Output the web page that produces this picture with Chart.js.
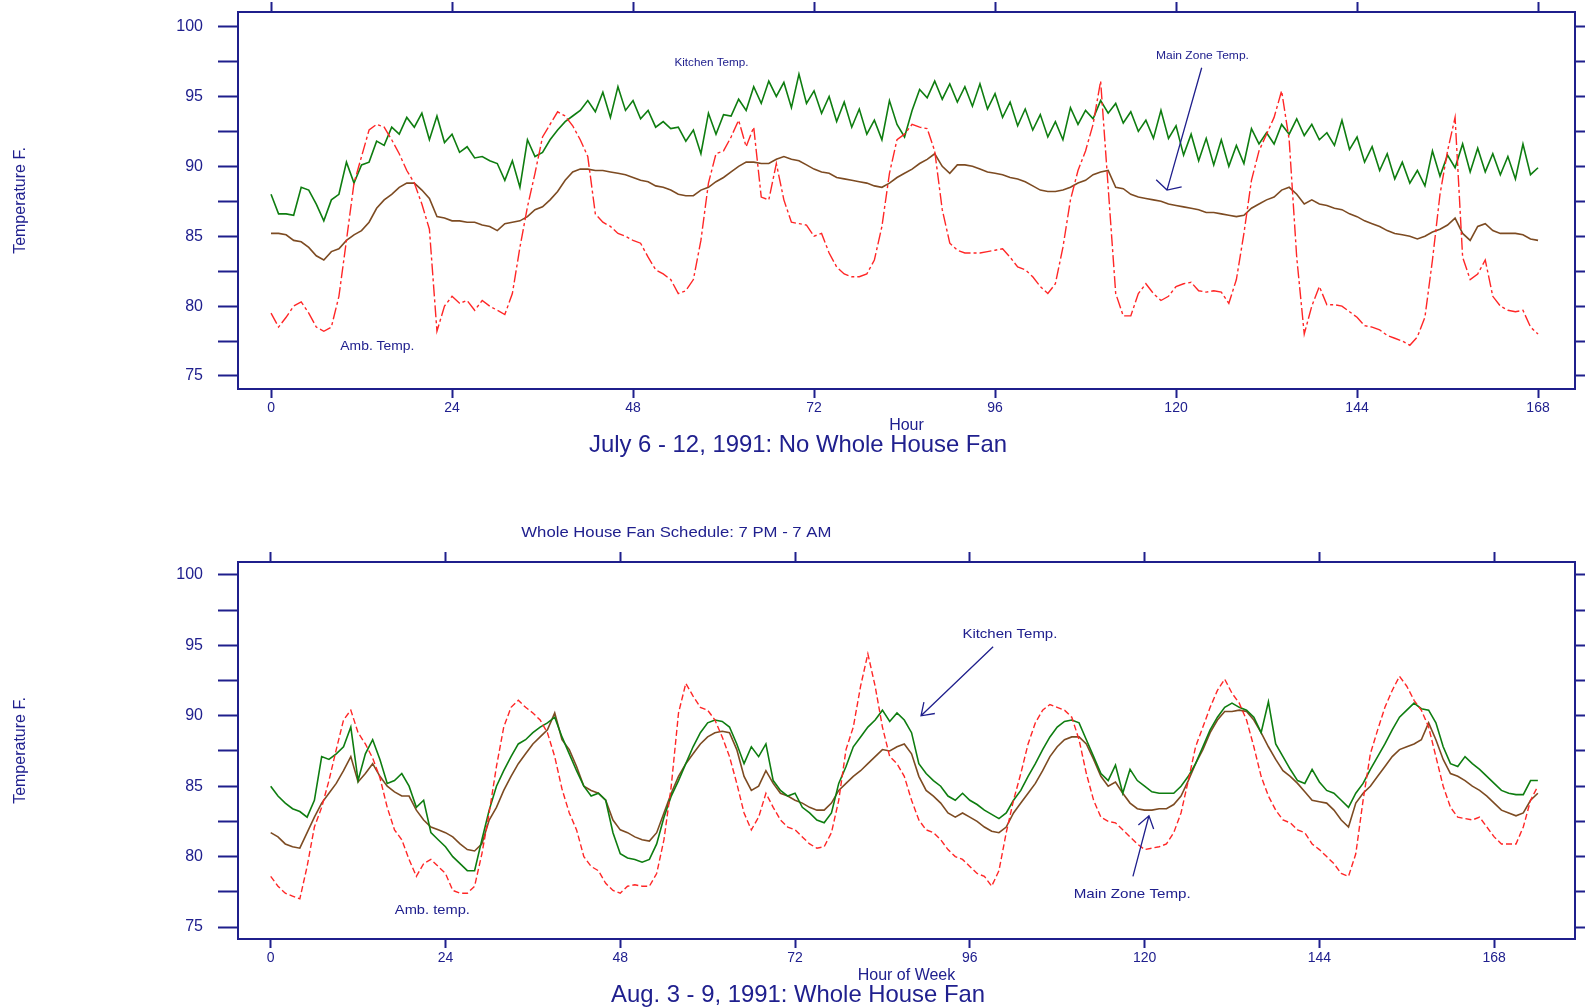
<!DOCTYPE html>
<html>
<head>
<meta charset="utf-8">
<title>Whole House Fan: July vs August 1991</title>
<script src="https://cdn.jsdelivr.net/npm/chart.js@4.4.1/dist/chart.umd.min.js"></script>
<style>
  html, body { margin: 0; padding: 0; background: #fff; }
  body { width: 1585px; height: 1008px; position: relative; overflow: hidden; }
  canvas { position: absolute; left: 0; }
  #julyChart { top: 0; }
  #augChart { top: 470px; }
</style>
</head>
<body>
<canvas id="julyChart" width="1585" height="470"></canvas>
<canvas id="augChart" width="1585" height="538"></canvas>
<script>
'use strict'

// axis marks
const hourMarks = [0, 24, 48, 72, 96, 120, 144, 168]
const tempMarks = [75, 77.5, 80, 82.5, 85, 87.5, 90, 92.5, 95, 97.5, 100]

// July 6 - 12, 1991 (no whole house fan), hourly, deg F
const julyAmb = [
  79.5, 78.5, 79.2, 80.0, 80.3, 79.5, 78.5, 78.2, 78.5, 80.7,
  84.7, 88.8, 90.7, 92.6, 93.0, 92.8, 91.9, 90.9, 89.7, 88.8,
  87.3, 85.5, 78.2, 80.0, 80.7, 80.2, 80.4, 79.7, 80.4, 80.0,
  79.7, 79.4, 80.9, 84.2, 87.1, 89.5, 92.1, 93.0, 93.9, 93.6,
  92.9, 91.9, 90.7, 86.6, 86.0, 85.7, 85.2, 85.0, 84.7, 84.5,
  83.5, 82.6, 82.3, 81.9, 80.9, 81.1, 81.9, 84.7, 88.8, 90.9,
  91.1, 92.1, 93.3, 91.4, 92.8, 87.8, 87.6, 90.2, 87.6, 86.0,
  85.9, 85.8, 85.0, 85.2, 83.8, 82.8, 82.3, 82.1, 82.1, 82.3,
  83.3, 85.7, 89.5, 91.9, 92.3, 93.0, 92.8, 92.7, 91.1, 86.9,
  84.5, 84.0, 83.8, 83.8, 83.8, 83.9, 84.0, 84.1, 83.5, 82.8,
  82.6, 82.1, 81.4, 80.9, 81.6, 84.2, 87.6, 89.7, 91.1, 93.0,
  96.1, 88.5, 80.9, 79.3, 79.3, 80.9, 81.6, 80.9, 80.4, 80.7,
  81.4, 81.6, 81.7, 81.1, 81.0, 81.1, 81.0, 80.2, 81.9, 85.2,
  89.0, 91.1, 92.3, 93.5, 95.4, 91.9, 83.5, 78.0, 80.0, 81.4,
  80.1, 80.1, 80.0, 79.6, 79.2, 78.6, 78.5, 78.3, 77.9, 77.7,
  77.5, 77.2, 77.8, 79.2, 83.3, 88.0, 91.1, 93.5, 83.5, 81.9,
  82.3, 83.3, 80.7, 80.0, 79.7, 79.6, 79.7, 78.5, 78.0
]
const julyKitchen = [
  88.0, 86.6, 86.6, 86.5, 88.5, 88.3, 87.3, 86.1, 87.6, 88.0,
  90.3, 88.8, 90.1, 90.3, 91.8, 91.5, 92.8, 92.3, 93.5, 92.8,
  93.8, 91.9, 93.6, 91.7, 92.3, 91.0, 91.4, 90.6, 90.7, 90.4,
  90.2, 89.0, 90.4, 88.5, 91.9, 90.7, 91.0, 91.9, 92.6, 93.2,
  93.6, 94.0, 94.7, 93.9, 95.3, 93.5, 95.7, 94.0, 94.7, 93.4,
  94.0, 92.8, 93.2, 92.7, 92.8, 91.8, 92.6, 90.9, 93.8, 92.3,
  93.7, 93.6, 94.8, 94.0, 95.7, 94.5, 96.1, 95.0, 96.0, 94.2,
  96.6, 94.5, 95.4, 93.8, 95.0, 93.2, 94.6, 92.8, 94.1, 92.3,
  93.3, 91.9, 94.7, 93.0, 92.1, 94.0, 95.5, 94.9, 96.1, 94.8,
  95.9, 94.6, 95.7, 94.3, 95.9, 94.1, 95.2, 93.5, 94.6, 92.9,
  94.1, 92.6, 93.7, 92.1, 93.2, 91.9, 94.2, 93.0, 94.0, 93.4,
  94.7, 93.8, 94.5, 93.1, 93.9, 92.5, 93.3, 92.0, 94.0, 92.0,
  92.9, 90.8, 92.3, 90.4, 92.0, 90.1, 91.9, 90.0, 91.5, 90.2,
  92.7, 91.6, 92.4, 91.6, 93.0, 92.3, 93.4, 92.2, 93.0, 91.9,
  92.4, 91.5, 93.3, 91.2, 92.1, 90.3, 91.4, 89.7, 90.9, 89.1,
  90.3, 88.8, 89.7, 88.6, 91.1, 89.3, 90.8, 89.9, 91.6, 89.6,
  91.3, 89.6, 90.9, 89.4, 90.7, 89.1, 91.6, 89.4, 89.9
]
const julyMain = [
  85.2, 85.2, 85.1, 84.7, 84.6, 84.2, 83.6, 83.3, 83.9, 84.1,
  84.7, 85.1, 85.4, 86.0, 87.0, 87.6, 88.0, 88.5, 88.8, 88.8,
  88.3, 87.7, 86.4, 86.3, 86.1, 86.1, 86.0, 86.0, 85.8, 85.7,
  85.4, 85.9, 86.0, 86.1, 86.4, 86.9, 87.1, 87.6, 88.2, 89.0,
  89.6, 89.8, 89.8, 89.7, 89.7, 89.6, 89.5, 89.4, 89.2, 89.0,
  88.9, 88.6, 88.5, 88.3, 88.0, 87.9, 87.9, 88.3, 88.5, 88.9,
  89.2, 89.6, 90.0, 90.3, 90.3, 90.2, 90.2, 90.5, 90.7, 90.5,
  90.4, 90.1, 89.8, 89.6, 89.5, 89.2, 89.1, 89.0, 88.9, 88.8,
  88.6, 88.5, 88.8, 89.2, 89.5, 89.8, 90.2, 90.5, 90.9, 90.0,
  89.5, 90.1, 90.1, 90.0, 89.8, 89.6, 89.5, 89.4, 89.2, 89.1,
  88.9, 88.6, 88.3, 88.2, 88.2, 88.3, 88.5, 88.8, 89.0, 89.4,
  89.6, 89.7, 88.5, 88.4, 88.0, 87.8, 87.7, 87.6, 87.5, 87.3,
  87.2, 87.1, 87.0, 86.9, 86.7, 86.7, 86.6, 86.5, 86.4, 86.5,
  87.0, 87.3, 87.6, 87.8, 88.3, 88.5, 88.0, 87.3, 87.6, 87.3,
  87.2, 87.0, 86.9, 86.6, 86.4, 86.1, 85.9, 85.7, 85.4, 85.2,
  85.1, 85.0, 84.8, 85.0, 85.3, 85.5, 85.8, 86.3, 85.2, 84.7,
  85.7, 85.9, 85.4, 85.2, 85.2, 85.2, 85.1, 84.8, 84.7
]

// Aug. 3 - 9, 1991 (whole house fan), hourly, deg F
const augAmb = [
  78.6, 77.9, 77.4, 77.2, 77.0, 79.3, 82.1, 83.5, 85.4, 87.6,
  89.7, 90.4, 88.8, 88.0, 87.0, 85.6, 83.5, 81.9, 81.2, 79.8,
  78.6, 79.5, 79.8, 79.3, 78.8, 77.6, 77.4, 77.4, 77.9, 80.2,
  83.1, 86.4, 89.2, 90.6, 91.1, 90.6, 90.2, 89.7, 88.8, 87.1,
  84.8, 83.1, 81.9, 80.0, 79.3, 79.0, 78.1, 77.6, 77.4, 77.9,
  78.0, 77.9, 77.9, 78.8, 81.2, 85.0, 90.2, 92.3, 91.4, 90.6,
  90.4, 89.7, 88.5, 87.1, 85.2, 83.1, 81.9, 82.8, 84.5, 83.5,
  82.6, 82.1, 81.9, 81.4, 80.9, 80.6, 80.7, 81.7, 84.0, 87.6,
  89.2, 92.1, 94.4, 92.1, 89.2, 87.1, 86.6, 85.7, 84.0, 82.6,
  81.9, 81.7, 81.2, 80.5, 80.0, 79.8, 79.3, 78.8, 78.6, 77.9,
  79.0, 81.7, 84.0, 85.9, 88.0, 89.5, 90.4, 90.8, 90.6, 90.4,
  89.9, 88.3, 85.9, 84.0, 82.8, 82.5, 82.4, 81.9, 81.4, 80.9,
  80.5, 80.6, 80.7, 80.9, 81.7, 83.1, 85.4, 87.8, 89.2, 90.6,
  91.8, 92.6, 91.6, 90.9, 89.7, 87.8, 85.7, 84.3, 83.3, 82.6,
  82.4, 81.9, 81.7, 80.9, 80.5, 80.0, 79.5, 78.8, 78.6, 80.2,
  84.0, 87.3, 89.0, 90.6, 91.8, 92.8, 92.1, 91.1, 90.4, 89.2,
  87.1, 85.0, 83.5, 82.8, 82.7, 82.6, 82.8, 82.1, 81.4, 80.9,
  80.9, 80.9, 82.1, 84.0, 85.0
]
const augKitchen = [
  85.0, 84.3, 83.8, 83.4, 83.2, 82.8, 84.0, 87.1, 86.9, 87.3,
  87.8, 89.2, 85.4, 87.3, 88.3, 86.9, 85.2, 85.4, 85.9, 85.0,
  83.5, 84.0, 81.7, 81.2, 80.7, 80.0, 79.5, 79.0, 79.0, 81.2,
  83.3, 85.0, 86.1, 87.1, 88.0, 88.3, 88.8, 89.2, 89.5, 89.9,
  88.5, 87.3, 86.1, 85.0, 84.3, 84.5, 84.0, 81.7, 80.2, 79.9,
  79.8, 79.6, 79.8, 80.9, 82.8, 84.3, 85.4, 86.6, 87.8, 88.8,
  89.5, 89.7, 89.6, 89.2, 88.0, 86.6, 87.8, 87.1, 88.0, 85.4,
  84.7, 84.3, 84.5, 83.5, 83.1, 82.6, 82.4, 83.1, 85.2, 86.4,
  87.8, 88.5, 89.2, 89.7, 90.4, 89.6, 90.2, 89.7, 88.8, 86.6,
  85.9, 85.4, 85.0, 84.3, 84.0, 84.5, 84.0, 83.7, 83.3, 83.0,
  82.7, 83.1, 84.0, 84.7, 85.7, 86.6, 87.6, 88.5, 89.2, 89.6,
  89.7, 89.5, 88.3, 87.1, 85.9, 85.4, 86.5, 84.5, 86.2, 85.4,
  85.0, 84.6, 84.5, 84.5, 84.5, 85.0, 85.7, 86.6, 87.8, 89.0,
  89.9, 90.6, 90.9, 90.6, 90.4, 89.9, 88.8, 91.0, 88.0, 87.1,
  86.2, 85.4, 85.2, 86.2, 85.3, 84.7, 84.5, 84.0, 83.5, 84.5,
  85.2, 86.2, 87.1, 88.0, 89.0, 89.9, 90.4, 90.9, 90.5, 90.4,
  89.5, 87.8, 86.6, 86.4, 87.1, 86.6, 86.2, 85.7, 85.2, 84.7,
  84.5, 84.4, 84.4, 85.4, 85.4
]
const augMain = [
  81.7, 81.4, 80.9, 80.7, 80.6, 81.7, 82.8, 83.8, 84.5, 85.2,
  86.1, 87.1, 85.3, 85.9, 86.6, 85.7, 85.0, 84.6, 84.3, 84.3,
  83.3, 82.6, 82.1, 81.9, 81.7, 81.4, 80.9, 80.5, 80.4, 80.9,
  82.6, 83.5, 84.7, 85.7, 86.6, 87.3, 88.0, 88.5, 89.0, 90.2,
  88.3, 87.6, 86.4, 85.0, 84.7, 84.5, 84.0, 82.6, 81.9, 81.7,
  81.4, 81.2, 81.1, 81.7, 83.1, 84.5, 85.7, 86.6, 87.3, 88.0,
  88.5, 88.8, 88.9, 88.8, 87.6, 85.7, 84.7, 85.0, 86.1, 85.2,
  84.5, 84.3, 84.0, 83.8, 83.5, 83.3, 83.3, 83.8, 84.7, 85.2,
  85.7, 86.1, 86.6, 87.1, 87.6, 87.5, 87.8, 88.0, 87.3, 85.7,
  84.7, 84.3, 83.8, 83.1, 82.8, 83.1, 82.8, 82.5, 82.1, 81.8,
  81.7, 82.1, 83.1, 83.8, 84.5, 85.2, 86.1, 87.1, 87.8, 88.3,
  88.5, 88.5, 88.0, 86.9, 85.7, 85.0, 85.3, 84.5, 83.8, 83.4,
  83.3, 83.3, 83.4, 83.4, 83.7, 84.3, 85.4, 86.6, 87.6, 88.8,
  89.7, 90.3, 90.3, 90.4, 90.3, 89.7, 88.8, 87.8, 86.9, 86.1,
  85.7, 85.2, 84.6, 84.0, 83.9, 83.8, 83.3, 82.6, 82.1, 83.8,
  84.5, 85.0, 85.7, 86.4, 87.1, 87.6, 87.8, 88.0, 88.3, 89.5,
  88.3, 86.9, 85.9, 85.7, 85.4, 85.0, 84.7, 84.3, 83.8, 83.3,
  83.1, 82.9, 83.1, 84.0, 84.5
]

const julyHours = julyAmb.map((_, i) => i)
const augHours = augAmb.map((_, i) => i)

const NAVY = '#1f1f8c'
const TEXT = '#20208e'
const RED = '#ff2626'
const GREEN = '#0e7d10'
const BROWN = '#7d4b22'
const FONT = "'Liberation Sans', Arial, sans-serif"

function toPoints(xs, ys) {
  return ys.map((y, i) => ({ x: xs[i], y }))
}

function drawText(ctx, text, x, y, size, width, baseline) {
  ctx.save()
  ctx.font = `${size}px ${FONT}`
  ctx.textAlign = 'center'
  ctx.textBaseline = baseline || 'middle'
  ctx.translate(x, y)
  if (width) ctx.scale(width / ctx.measureText(text).width, 1)
  ctx.fillText(text, 0, 0)
  ctx.restore()
}

function drawArrow(ctx, x1, y1, x2, y2, spread, len) {
  const back = Math.atan2(y1 - y2, x1 - x2)
  ctx.beginPath()
  ctx.moveTo(x1, y1)
  ctx.lineTo(x2, y2)
  ctx.moveTo(x2 + len * Math.cos(back - spread), y2 + len * Math.sin(back - spread))
  ctx.lineTo(x2, y2)
  ctx.lineTo(x2 + len * Math.cos(back + spread), y2 + len * Math.sin(back + spread))
  ctx.stroke()
}

// labels, arrows and caption drawn on top of the plot
const notesPlugin = {
  id: 'notes',
  afterDraw(chart, _args, opts) {
    const { ctx, chartArea, scales } = chart
    const px = (p) => [scales.x.getPixelForValue(p[0]), scales.y.getPixelForValue(p[1])]
    ctx.save()
    ctx.fillStyle = TEXT
    ctx.strokeStyle = NAVY
    ctx.lineWidth = 1.3
    ;(opts.labels || []).forEach((n) => {
      const [x, y] = px(n.at)
      drawText(ctx, n.text, x, y, n.size, n.width)
    })
    ;(opts.arrows || []).forEach((a) => {
      const [x1, y1] = px(a.from)
      const [x2, y2] = px(a.to)
      drawArrow(ctx, x1, y1, x2, y2, a.spread, a.len)
    })
    if (opts.caption) {
      const c = opts.caption
      drawText(ctx, c.text, c.x, chartArea.bottom + c.dy, c.size, c.width, 'alphabetic')
    }
    ctx.restore()
  },
}

function makeChart(id, o) {
  const fixBox = (prop, size) => (s) => {
    s[prop] = size
    s.paddingTop = 0
    s.paddingBottom = 0
    s.paddingLeft = 0
    s.paddingRight = 0
  }
  const setTicks = (values) => (s) => {
    s.ticks = values.map((value) => ({ value }))
  }
  const border = { display: true, color: NAVY, width: 2 }
  const grid = (len) => ({
    drawOnChartArea: false,
    drawTicks: true,
    tickLength: len,
    tickWidth: 2,
    color: NAVY,
    tickColor: NAVY,
  })
  const blank = { callback: () => '', autoSkip: false }

  return new Chart(document.getElementById(id), {
    type: 'line',
    data: {
      datasets: [
        {
          label: 'Amb. Temp.',
          data: toPoints(o.hours, o.amb),
          borderColor: RED,
          borderWidth: 1.4,
          borderDash: o.ambDash,
        },
        {
          label: 'Kitchen Temp.',
          data: toPoints(o.hours, o.kitchen),
          borderColor: GREEN,
          borderWidth: o.kitchenWidth,
        },
        {
          label: 'Main Zone Temp.',
          data: toPoints(o.hours, o.main),
          borderColor: BROWN,
          borderWidth: 1.6,
        },
      ],
    },
    options: {
      responsive: false,
      animation: false,
      devicePixelRatio: 1,
      layout: { padding: 0 },
      elements: { point: { radius: 0 }, line: { tension: 0, fill: false } },
      plugins: {
        legend: { display: false },
        tooltip: { enabled: false },
        notes: o.notes,
      },
      scales: {
        x: {
          type: 'linear',
          position: 'bottom',
          min: o.xMin,
          max: o.xMax,
          afterBuildTicks: setTicks(hourMarks),
          afterFit: fixBox('height', o.bottomH),
          border,
          grid: grid(9),
          ticks: {
            color: TEXT,
            padding: 2,
            autoSkip: false,
            maxRotation: 0,
            font: { family: FONT, size: 14 },
          },
          title: {
            display: true,
            text: o.xTitle,
            color: TEXT,
            font: { family: FONT, size: 16 },
            padding: { top: 0, bottom: o.xTitlePad },
          },
        },
        xTop: {
          type: 'linear',
          position: 'top',
          min: o.xMin,
          max: o.xMax,
          afterBuildTicks: setTicks(hourMarks),
          afterFit: fixBox('height', o.topH),
          border,
          grid: grid(10),
          ticks: blank,
        },
        y: {
          type: 'linear',
          position: 'left',
          min: o.yMin,
          max: o.yMax,
          afterBuildTicks: setTicks(tempMarks),
          afterFit: fixBox('width', 238),
          border,
          grid: grid(20),
          ticks: {
            color: TEXT,
            padding: 15,
            autoSkip: false,
            font: { family: FONT, size: 16 },
            callback: (v) => (v % 5 === 0 ? String(v) : ''),
          },
          title: {
            display: true,
            text: 'Temperature F.',
            color: TEXT,
            font: { family: FONT, size: 16 },
            padding: { top: 11, bottom: 0 },
          },
        },
        yRight: {
          type: 'linear',
          position: 'right',
          min: o.yMin,
          max: o.yMax,
          afterBuildTicks: setTicks(tempMarks),
          afterFit: fixBox('width', 10),
          border,
          grid: grid(12),
          ticks: blank,
        },
      },
    },
    plugins: [notesPlugin],
  })
}

makeChart('julyChart', {
  hours: julyHours,
  amb: julyAmb,
  kitchen: julyKitchen,
  main: julyMain,
  ambDash: [12, 3, 3, 3],
  kitchenWidth: 1.6,
  xMin: -4.38,
  xMax: 172.9,
  yMin: 74.07,
  yMax: 101.04,
  topH: 12,
  bottomH: 81,
  xTitle: 'Hour',
  xTitlePad: 35,
  notes: {
    labels: [
      { text: 'Kitchen Temp.', at: [58.4, 97.4], size: 11, width: 74 },
      { text: 'Main Zone Temp.', at: [123.5, 97.9], size: 11, width: 93 },
      { text: 'Amb. Temp.', at: [14.1, 77.1], size: 12, width: 74 },
    ],
    arrows: [
      { from: [123.4, 97.05], to: [118.8, 88.3], spread: 1.08, len: 15 },
    ],
    caption: { text: 'July 6 - 12, 1991: No Whole House Fan', x: 798, dy: 63, size: 24, width: 418 },
  },
})

makeChart('augChart', {
  hours: augHours,
  amb: augAmb,
  kitchen: augKitchen,
  main: augMain,
  ambDash: [6, 3],
  kitchenWidth: 1.6,
  xMin: -4.49,
  xMax: 179.1,
  yMin: 74.15,
  yMax: 100.92,
  topH: 92,
  bottomH: 69,
  xTitle: 'Hour of Week',
  xTitlePad: 23,
  notes: {
    labels: [
      { text: 'Whole House Fan Schedule: 7 PM - 7 AM', at: [55.7, 103.0], size: 15, width: 310 },
      { text: 'Kitchen Temp.', at: [101.5, 95.8], size: 13, width: 95 },
      { text: 'Main Zone Temp.', at: [118.3, 77.35], size: 13, width: 117 },
      { text: 'Amb. temp.', at: [22.2, 76.2], size: 13, width: 75 },
    ],
    arrows: [
      { from: [99.2, 94.9], to: [89.3, 90.0], spread: 0.6, len: 14 },
      { from: [118.4, 78.6], to: [120.6, 82.9], spread: 0.6, len: 14 },
    ],
    caption: { text: 'Aug. 3 - 9, 1991: Whole House Fan', x: 798, dy: 63, size: 24, width: 374 },
  },
})
</script>
</body>
</html>
